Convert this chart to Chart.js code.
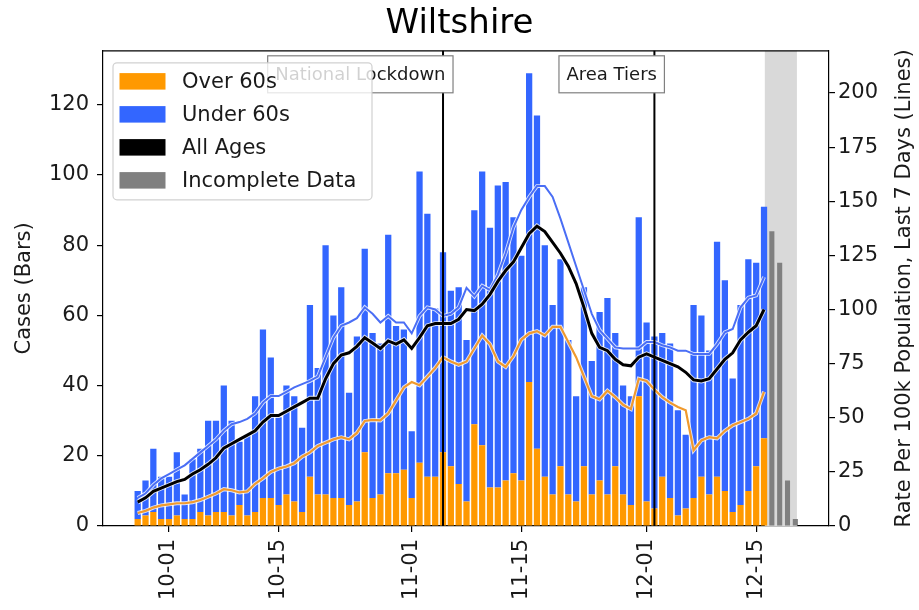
<!DOCTYPE html>
<html>
<head>
<meta charset="utf-8">
<script src="https://cdn.jsdelivr.net/npm/chart.js@4.4.0/dist/chart.umd.min.js"></script>
<style>
  body { margin: 0; background: #fff; }
</style>
</head>
<body>
<canvas id="chart" width="919" height="610"></canvas>
<script>
'use strict';

// x values are days counted from 1 Oct 2020; first bar is 27 Sep
const firstDay = -4;

const over60Cases = [2, 3, 4, 2, 2, 3, 2, 2, 4, 3,
  4, 4, 3, 6, 3, 4, 8, 8, 6, 9,
  7, 4, 14, 9, 9, 8, 8, 6, 7, 21,
  8, 9, 15, 15, 16, 8, 18, 14, 14, 21,
  17, 12, 7, 29, 23, 11, 11, 13, 15, 13,
  41, 22, 14, 9, 17, 9, 7, 17, 9, 13,
  9, 17, 9, 6, 37, 7, 5, 14, 8, 3,
  5, 8, 14, 9, 14, 10, 4, 6, 10, 17, 25];

const under60Cases = [8, 10, 18, 12, 12, 18, 7, 17, 18, 27,
  26, 36, 27, 18, 23, 33, 48, 40, 25, 31,
  30, 24, 49, 36, 71, 52, 60, 32, 47, 58,
  47, 43, 68, 42, 40, 19, 83, 75, 48, 57,
  50, 56, 46, 61, 78, 74, 86, 85, 73, 64,
  88, 95, 66, 54, 59, 44, 30, 51, 38, 48,
  56, 38, 31, 31, 51, 51, 49, 41, 44, 30,
  21, 55, 46, 41, 67, 60, 38, 57, 66, 58, 66];

const incompleteCases = [84, 75, 13, 2];

const rateUnder60 = [13, 15, 19, 22, 24, 26, 28, 31, 34, 37,
  40, 44, 47, 48, 49.5, 52, 57, 60, 60, 62,
  64, 65.5, 67, 69, 78, 87, 92.5, 94, 96, 101,
  98, 94, 97, 94, 94, 89, 97, 101, 100, 97,
  98, 101, 110, 106, 111, 109, 116, 126, 138, 146,
  152, 157, 157, 152, 142, 131, 120, 109, 98, 90.5,
  86.5, 82.5, 82, 82, 82, 85, 85, 83.5, 82.5, 81,
  81, 79.5, 79.5, 79.5, 84, 89.5, 91, 101, 105.5, 106.5, 115];

const rateAllAges = [11, 13, 16, 17.5, 19, 20.5, 21.5, 24, 26, 28.5,
  31.5, 36, 38, 40, 42, 44, 48, 51, 51, 53,
  55, 57, 59, 59, 68, 75, 79, 80, 83, 87,
  84.5, 82, 85.5, 84, 86, 82, 87, 92.5, 93.5, 93.5,
  93.5, 95.5, 100, 99.5, 102.5, 107, 113, 118, 122, 128.5,
  135, 138.5, 136, 131, 126, 120, 112, 101, 89, 82.5,
  81, 77, 74.5, 74, 78, 79.5, 78, 76.5, 75, 73.5,
  71, 67.5, 67, 68, 72.5, 77, 80, 86, 89.5, 92.5, 100];

const rateOver60 = [6, 7, 8.5, 9.5, 10, 10.5, 10.5, 11, 12, 13.5,
  15, 17, 16.5, 15.5, 16, 19.5, 22, 25, 26.5, 27.5,
  29, 32, 34, 37, 38.5, 40, 41, 40, 43, 48.5,
  49, 48.8, 52, 58, 64, 66.5, 65, 69, 73, 78,
  76, 74.5, 76, 82, 88, 84, 76, 73.5, 78.5, 86,
  89, 90, 88, 92, 92, 85, 78, 69, 60, 58.5,
  62.5, 59.5, 56, 54, 68, 67, 63, 59.5, 57, 55,
  53.5, 35, 39.5, 41, 40.5, 44, 46.5, 48, 49.5, 52, 62];

const tickDays = [0, 14, 31, 45, 61, 75];
const tickLabels = ['10-01', '10-15', '11-01', '11-15', '12-01', '12-15'];
const casesTicks = [0, 20, 40, 60, 80, 100, 120];
const rateTicks = [0, 25, 50, 75, 100, 125, 150, 175, 200];

const eventDays = [35, 62];
const eventLabels = ['National Lockdown', 'Area Tiers'];
const incompleteSpan = [76.1, 80.2];

const FONT = "'DejaVu Sans', 'Liberation Sans', sans-serif";
Chart.defaults.font.family = FONT;
Chart.defaults.color = '#000';

function toPoints(values, start) {
  return values.map((v, i) => ({ x: start + i, y: v }));
}

const incompleteStart = firstDay + over60Cases.length;

const barColors = { over: '#ff9900', under: '#3366ff', incomplete: '#808080' };

function lineSets(label, values, color, width, order) {
  const data = toPoints(values, firstDay);
  return [
    { type: 'line', label: label + ' halo', data, borderColor: 'rgba(255,255,255,0.8)', borderWidth: width + 1.8,
      pointRadius: 0, yAxisID: 'y1', order: order + 1, tension: 0 },
    { type: 'line', label, data, borderColor: color, borderWidth: width,
      pointRadius: 0, yAxisID: 'y1', order, tension: 0 }
  ];
}

const legendEntries = [
  { text: 'Over 60s', color: barColors.over },
  { text: 'Under 60s', color: barColors.under },
  { text: 'All Ages', color: '#000000' },
  { text: 'Incomplete Data', color: barColors.incomplete }
];

const extras = {
  id: 'extras',
  beforeDatasetsDraw(chart) {
    const { ctx, chartArea: a, scales: { x } } = chart;
    const x0 = x.getPixelForValue(incompleteSpan[0]);
    const x1 = x.getPixelForValue(incompleteSpan[1]);
    ctx.save();
    ctx.fillStyle = '#d9d9d9';
    ctx.fillRect(x0, a.top, x1 - x0, a.bottom - a.top);
    ctx.restore();
  },
  afterDatasetsDraw(chart) {
    const { ctx, chartArea: a, scales: { x } } = chart;
    ctx.save();
    eventDays.forEach((d, i) => {
      const px = x.getPixelForValue(d);
      ctx.strokeStyle = '#000';
      ctx.lineWidth = 2;
      ctx.beginPath();
      ctx.moveTo(px, a.top);
      ctx.lineTo(px, a.bottom);
      ctx.stroke();

      ctx.font = '18px ' + FONT;
      const w = ctx.measureText(eventLabels[i]).width;
      const right = px + 2.5;
      const bx = right - w - 7.5, by = a.top + 5, bw = w + 15, bh = 37;
      ctx.fillStyle = '#fff';
      ctx.fillRect(bx, by, bw, bh);
      ctx.strokeStyle = '#808080';
      ctx.lineWidth = 1.2;
      ctx.strokeRect(bx, by, bw, bh);
      ctx.fillStyle = '#1a1a1a';
      ctx.textAlign = 'right';
      ctx.textBaseline = 'middle';
      ctx.fillText(eventLabels[i], right, by + bh / 2 + 1);
    });
    // top edge of the frame
    ctx.strokeStyle = '#000';
    ctx.lineWidth = 1.2;
    ctx.beginPath();
    ctx.moveTo(a.left, a.top);
    ctx.lineTo(a.right, a.top);
    ctx.stroke();
    ctx.restore();
  },
  afterDraw(chart) {
    const { ctx, chartArea: a } = chart;
    ctx.save();
    // legend
    const lx = a.left + 10, ly = a.top + 12, lw = 259, lh = 137;
    ctx.beginPath();
    ctx.roundRect(lx, ly, lw, lh, 4);
    ctx.fillStyle = 'rgba(255,255,255,0.8)';
    ctx.fill();
    ctx.strokeStyle = 'rgba(204,204,204,0.9)';
    ctx.lineWidth = 1.2;
    ctx.stroke();
    ctx.font = '21px ' + FONT;
    ctx.textAlign = 'left';
    ctx.textBaseline = 'middle';
    legendEntries.forEach((item, i) => {
      const cy = ly + 18.5 + i * 33;
      ctx.fillStyle = item.color;
      ctx.fillRect(lx + 6.5, cy - 8.2, 46, 16.5);
      ctx.fillStyle = '#1a1a1a';
      ctx.fillText(item.text, lx + 69, cy + 1);
    });
    // right axis title, reading upwards
    ctx.translate(905, (a.top + a.bottom) / 2);
    ctx.rotate(-Math.PI / 2);
    ctx.textAlign = 'center';
    ctx.fillStyle = '#1a1a1a';
    ctx.fillText('Rate Per 100k Population, Last 7 Days (Lines)', 0, 0);
    ctx.restore();
  }
};

const canvasElem = document.getElementById('chart');

const config = {
  data: {
    datasets: [
      { type: 'bar', label: 'Over 60s', data: toPoints(over60Cases, firstDay), backgroundColor: barColors.over,
        barPercentage: 0.8, categoryPercentage: 1, order: 10, yAxisID: 'y' },
      { type: 'bar', label: 'Under 60s', data: toPoints(under60Cases, firstDay), backgroundColor: barColors.under,
        barPercentage: 0.8, categoryPercentage: 1, order: 10, yAxisID: 'y' },
      { type: 'bar', label: 'Incomplete Data', data: toPoints(incompleteCases, incompleteStart), backgroundColor: barColors.incomplete,
        barPercentage: 0.65, categoryPercentage: 1, order: 10, yAxisID: 'y' },
      ...lineSets('Under 60s rate', rateUnder60, '#4a6ef5', 2, 5),
      ...lineSets('Over 60s rate', rateOver60, '#f09a2e', 2.2, 3),
      ...lineSets('All Ages', rateAllAges, '#000000', 3, 1)
    ]
  },
  options: {
    responsive: false,
    animation: false,
    events: [],
    layout: { padding: 0 },
    plugins: {
      legend: { display: false },
      tooltip: { enabled: false },
      title: {
        display: true,
        text: 'Wiltshire',
        color: '#000',
        font: { size: 34, weight: 'normal' },
        padding: { top: 4, bottom: 6 }
      }
    },
    scales: {
      x: {
        type: 'linear',
        min: -8.43,
        max: 84.3,
        offset: false,
        bounds: 'data',
        stacked: true,
        z: 1,
        afterBuildTicks: (axis) => { axis.ticks = tickDays.map(v => ({ value: v })); },
        afterFit: (axis) => { axis.height = 84; },
        ticks: {
          callback: (v) => tickLabels[tickDays.indexOf(v)],
          minRotation: 90,
          maxRotation: 90,
          autoSkip: false,
          padding: 7,
          color: '#1a1a1a',
          font: { size: 21 }
        },
        grid: { offset: false, drawOnChartArea: false, tickLength: 6, color: '#000', lineWidth: 1.2 },
        border: { color: '#000', width: 1.2 }
      },
      y: {
        position: 'left',
        stacked: true,
        min: 0,
        max: 135.4,
        afterBuildTicks: (axis) => { axis.ticks = casesTicks.map(v => ({ value: v })); },
        afterFit: (axis) => { axis.width = 103; },
        title: {
          display: true,
          text: 'Cases (Bars)',
          color: '#1a1a1a',
          font: { size: 21 },
          padding: { top: 12, bottom: 0 }
        },
        ticks: { padding: 8, color: '#1a1a1a', font: { size: 21 } },
        grid: { drawOnChartArea: false, tickLength: 6, color: '#000', lineWidth: 1.2 },
        border: { color: '#000', width: 1.2 }
      },
      y1: {
        position: 'right',
        min: 0,
        max: 219.5,
        afterBuildTicks: (axis) => { axis.ticks = rateTicks.map(v => ({ value: v })); },
        afterFit: (axis) => { axis.width = 90; },
        ticks: { padding: 3, color: '#1a1a1a', font: { size: 21 } },
        grid: { drawOnChartArea: false, tickLength: 6, color: '#000', lineWidth: 1.2 },
        border: { color: '#000', width: 1.2 }
      }
    }
  },
  plugins: [extras]
};

const myChart = new Chart(canvasElem, config);
</script>
</body>
</html>
